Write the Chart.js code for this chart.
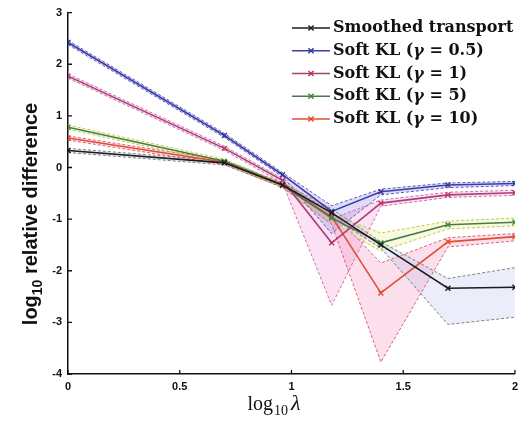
<!DOCTYPE html>
<html>
<head>
<meta charset="utf-8">
<script src="https://cdn.jsdelivr.net/npm/chart.js@4/dist/chart.umd.min.js"></script>
<style>
  html, body { margin: 0; padding: 0; background: #fff; }
  #wrap { width: 524px; height: 423px; position: relative; }
</style>
</head>
<body>
<div id="wrap"><canvas id="c" width="524" height="423"></canvas></div>
<script>
// log10(lambda) sample positions and axis ticks
const logLambda = [0, 0.7, 0.96, 1.18, 1.4, 1.7, 2];
const xTicks = [0, 0.5, 1, 1.5, 2];
const xTickLabels = ['0', '0.5', '1', '1.5', '2'];
const yTicks = [3, 2, 1, 0, -1, -2, -3, -4];

// log10 relative difference: mean, upper and lower envelope per method
const smoothed   = [0.33, 0.09, -0.34, -0.88, -1.50, -2.34, -2.32];
const smoothedHi = [0.37, 0.13, -0.30, -0.80, -1.44, -2.15, -1.94];
const smoothedLo = [0.29, 0.05, -0.38, -0.96, -1.56, -3.04, -2.90];

const kl05   = [2.42, 0.62, -0.14, -0.85, -0.47, -0.34, -0.31];
const kl05Hi = [2.46, 0.66, -0.10, -0.74, -0.42, -0.30, -0.27];
const kl05Lo = [2.38, 0.58, -0.18, -1.28, -0.53, -0.39, -0.35];

const kl1   = [1.77, 0.37, -0.25, -1.46, -0.69, -0.53, -0.49];
const kl1Hi = [1.81, 0.41, -0.21, -1.00, -0.63, -0.48, -0.44];
const kl1Lo = [1.73, 0.33, -0.30, -2.67, -0.75, -0.58, -0.54];

const kl5   = [0.78, 0.12, -0.34, -0.98, -1.46, -1.11, -1.06];
const kl5Hi = [0.82, 0.16, -0.30, -0.90, -1.27, -1.04, -0.98];
const kl5Lo = [0.74, 0.08, -0.38, -1.08, -1.62, -1.19, -1.13];

const kl10   = [0.57, 0.10, -0.35, -0.95, -2.43, -1.44, -1.34];
const kl10Hi = [0.61, 0.14, -0.31, -0.85, -1.85, -1.36, -1.28];
const kl10Lo = [0.53, 0.06, -0.39, -1.10, -3.77, -1.54, -1.42];

const seriesLabels = [
  'Smoothed transport',
  'Soft KL (γ = 0.5)',
  'Soft KL (γ = 1)',
  'Soft KL (γ = 5)',
  'Soft KL (γ = 10)'
];

const series = [
  { label: seriesLabels[0], mid: smoothed, hi: smoothedHi, lo: smoothedLo,
    line: '#1c1c1c', mark: '#1c1c1c', band: '#808080', fill: 'rgba(170,180,235,0.24)' },
  { label: seriesLabels[1], mid: kl05, hi: kl05Hi, lo: kl05Lo,
    line: '#3c3ca8', mark: '#34349c', band: '#5a5ac0', fill: 'rgba(120,110,220,0.24)' },
  { label: seriesLabels[2], mid: kl1, hi: kl1Hi, lo: kl1Lo,
    line: '#a8407e', mark: '#c03060', band: '#d070a8', fill: 'rgba(235,120,200,0.22)' },
  { label: seriesLabels[3], mid: kl5, hi: kl5Hi, lo: kl5Lo,
    line: '#4a7a4a', mark: '#3a8a3a', band: '#c4cc40', fill: 'rgba(220,230,110,0.22)' },
  { label: seriesLabels[4], mid: kl10, hi: kl10Hi, lo: kl10Lo,
    line: '#e05030', mark: '#e04a20', band: '#e06070', fill: 'rgba(240,120,180,0.24)' }
];

const pts = arr => logLambda.map((x, i) => ({ x: x, y: arr[i] }));

const datasets = [];
series.forEach(s => {
  datasets.push({
    data: pts(s.hi), borderColor: s.band, borderWidth: 1, borderDash: [3, 2],
    pointRadius: 0, fill: false, order: 2, tension: 0
  });
  datasets.push({
    data: pts(s.lo), borderColor: s.band, borderWidth: 1, borderDash: [3, 2],
    pointRadius: 0, fill: '-1', backgroundColor: s.fill, order: 2, tension: 0
  });
  datasets.push({
    label: s.label, data: pts(s.mid), borderColor: s.line, borderWidth: 1.6,
    pointStyle: 'crossRot', pointRadius: 3.5, pointBorderColor: s.mark,
    pointBorderWidth: 1.4, fill: false, order: 1, tension: 0, isMain: true
  });
});

// inward tick marks on both axes
const tickMarks = {
  id: 'tickMarks',
  afterDraw(chart) {
    const { ctx, chartArea: a, scales: { x, y } } = chart;
    ctx.save();
    ctx.strokeStyle = '#111';
    ctx.lineWidth = 1.3;
    ctx.beginPath();
    xTicks.forEach(v => {
      const px = x.getPixelForValue(v);
      ctx.moveTo(px, a.bottom); ctx.lineTo(px, a.bottom - 4);
    });
    yTicks.forEach(v => {
      const py = y.getPixelForValue(v);
      ctx.moveTo(a.left, py); ctx.lineTo(a.left + 4, py);
    });
    ctx.stroke();
    ctx.restore();
  }
};

// axis titles with subscripts
const axisTitles = {
  id: 'axisTitles',
  afterDraw(chart) {
    const ctx = chart.ctx;
    ctx.save();
    ctx.fillStyle = '#111';
    ctx.textBaseline = 'alphabetic';
    ctx.textAlign = 'left';

    // x title: log10 λ
    const fMain = '20px "Liberation Serif", "DejaVu Serif", serif';
    const fSub = '14px "Liberation Serif", "DejaVu Serif", serif';
    const fLam = 'italic 22px "Liberation Serif", "DejaVu Serif", serif';
    ctx.font = fMain; const w1 = ctx.measureText('log').width;
    ctx.font = fSub;  const w2 = ctx.measureText('10').width;
    ctx.font = fLam;  const w3 = ctx.measureText('λ').width;
    const total = w1 + 1 + w2 + 3 + w3;
    let sx = 274 - total / 2;
    const base = 410;
    ctx.font = fMain; ctx.fillText('log', sx, base); sx += w1 + 1;
    ctx.font = fSub;  ctx.fillText('10', sx, base + 5); sx += w2 + 3;
    ctx.font = fLam;  ctx.fillText('λ', sx, base);

    // y title: log10 relative difference (rotated)
    const gMain = 'bold 20px "Liberation Sans", Arial, sans-serif';
    const gSub = 'bold 14px "Liberation Sans", Arial, sans-serif';
    ctx.font = gMain; const a1 = ctx.measureText('log').width;
    ctx.font = gSub;  const a2 = ctx.measureText('10').width;
    ctx.font = gMain; const a3 = ctx.measureText(' relative difference').width;
    const tot = a1 + a2 + a3;
    ctx.translate(37, 214);
    ctx.rotate(-Math.PI / 2);
    let tx = -tot / 2;
    ctx.font = gMain; ctx.fillText('log', tx, 0); tx += a1;
    ctx.font = gSub;  ctx.fillText('10', tx, 5); tx += a2;
    ctx.font = gMain; ctx.fillText(' relative difference', tx, 0);
    ctx.restore();
  }
};

// legend in the upper right of the plot
const innerLegend = {
  id: 'innerLegend',
  afterDraw(chart) {
    const ctx = chart.ctx;
    const mains = chart.data.datasets.filter(d => d.isMain);
    const x0 = 292, x1 = 330, tx = 333, y0 = 28, dy = 22.75;
    const fUp = 'bold 16px "DejaVu Serif", "Liberation Serif", serif';
    const fIt = 'italic bold 16px "DejaVu Serif", "Liberation Serif", serif';
    ctx.save();
    mains.forEach((d, i) => {
      const y = y0 + dy * i;
      ctx.strokeStyle = d.borderColor;
      ctx.lineWidth = 1.6;
      ctx.setLineDash([]);
      ctx.beginPath(); ctx.moveTo(x0, y); ctx.lineTo(x1, y); ctx.stroke();
      const m = (x0 + x1) / 2, r = 2.6;
      ctx.strokeStyle = d.pointBorderColor;
      ctx.lineWidth = 1.4;
      ctx.beginPath();
      ctx.moveTo(m - r, y - r); ctx.lineTo(m + r, y + r);
      ctx.moveTo(m - r, y + r); ctx.lineTo(m + r, y - r);
      ctx.stroke();
      ctx.fillStyle = '#111';
      ctx.textBaseline = 'middle';
      ctx.textAlign = 'left';
      const parts = d.label.split('γ');
      let px = tx;
      parts.forEach((p, k) => {
        if (k > 0) {
          ctx.font = fIt; ctx.fillText('γ', px, y + 1); px += ctx.measureText('γ').width;
        }
        ctx.font = fUp; ctx.fillText(p, px, y); px += ctx.measureText(p).width;
      });
    });
    ctx.restore();
  }
};

const tickFont = { family: '"Liberation Sans", Arial, sans-serif', size: 11, weight: 'bold' };

new Chart(document.getElementById('c'), {
  type: 'line',
  data: { datasets: datasets },
  options: {
    responsive: false,
    animation: false,
    devicePixelRatio: 1,
    layout: { padding: { left: 0, right: 9, top: 12, bottom: 0 } },
    plugins: {
      legend: { display: false },
      tooltip: { enabled: false },
      filler: { drawTime: 'beforeDatasetsDraw' }
    },
    scales: {
      x: {
        type: 'linear', min: xTicks[0], max: xTicks[xTicks.length - 1],
        afterBuildTicks: s => { s.ticks = xTicks.map(v => ({ value: v })); },
        afterFit: s => { s.height = 49; },
        grid: { display: true, drawOnChartArea: false, drawTicks: false },
        border: { display: true, color: '#111', width: 1.5 },
        ticks: {
          color: '#111', font: tickFont, padding: 6, maxRotation: 0, autoSkip: false,
          callback: v => xTickLabels[xTicks.indexOf(v)] ?? String(v)
        }
      },
      y: {
        type: 'linear', min: yTicks[yTicks.length - 1], max: yTicks[0],
        afterBuildTicks: s => { s.ticks = yTicks.map(v => ({ value: v })); },
        afterFit: s => { s.width = 68; },
        grid: { display: true, drawOnChartArea: false, drawTicks: false },
        border: { display: true, color: '#111', width: 1.5 },
        ticks: { color: '#111', font: tickFont, padding: 6, autoSkip: false }
      }
    }
  },
  plugins: [tickMarks, axisTitles, innerLegend]
});
</script>
</body>
</html>
